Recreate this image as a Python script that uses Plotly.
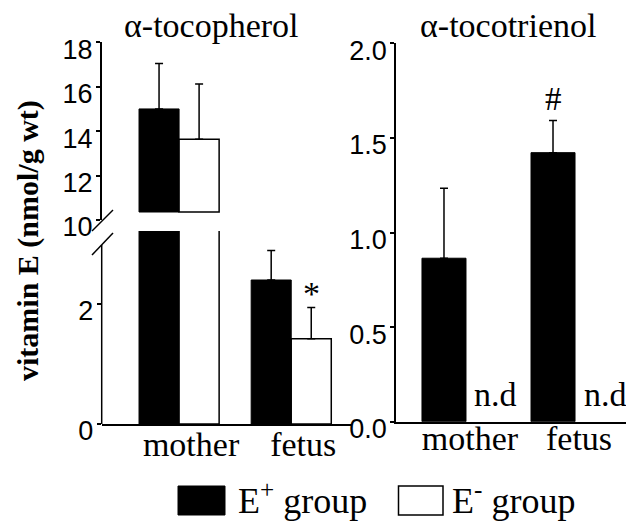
import plotly.graph_objects as go

W, H = 634, 523

# ---------------- data ----------------
categories = ["mother", "fetus"]

# alpha-tocopherol (nmol/g wt)
toco_eplus = [15.0, 2.40]
toco_eplus_sd = [2.05, 0.49]
toco_eminus = [13.63, 1.42]
toco_eminus_sd = [2.49, 0.52]

# alpha-tocotrienol (nmol/g wt); E- group not detected
trien_eplus = [0.864, 1.422]
trien_eplus_sd = [0.37, 0.17]
trien_eminus = [None, None]
trien_nd_labels = ["n.d", "n.d"]

left_ticks_low = [0, 2]
left_ticks_high = [10, 12, 14, 16, 18]
right_ticks = [0.0, 0.5, 1.0, 1.5, 2.0]

panel_titles = ["α-tocopherol", "α-tocotrienol"]
y_title = "vitamin E (nmol/g wt)"
legend_labels = ["E<sup>+</sup> group", "E<sup>-</sup> group"]
sig_marks = ["*", "#"]

# ---------------- layout helpers ----------------
OFF = 8  # page body margin

def px(x):
    return (x - OFF) / W

def py(y):
    return 1 - (y - OFF) / H

SERIF = "Times New Roman, Liberation Serif, serif"
SANS = "Arial, Liberation Sans, sans-serif"
BREAK_LOW_TOP = 3.217   # top of lower segment
BREAK_HIGH = 10.36      # bottom of bars in upper segment

wl = 40 / 112.0   # left bar width (category units)
wr = 44 / 109.0   # right bar width

fig = go.Figure()

def err(arr):
    return dict(type="data", array=arr, arrayminus=[0] * len(arr), symmetric=False,
                color="black", thickness=1.5, width=4, visible=True)

# ---- left panel, lower segment ----
fig.add_trace(go.Bar(x=categories, y=toco_eplus, width=wl, offset=-wl,
                     marker=dict(color="black", line=dict(color="black", width=1)),
                     error_y=err([None, toco_eplus_sd[1]]),
                     xaxis="x", yaxis="y", showlegend=False))
fig.add_trace(go.Bar(x=categories, y=toco_eminus, width=wl, offset=0,
                     marker=dict(color="white", line=dict(color="black", width=1.5)),
                     error_y=err([None, toco_eminus_sd[1]]),
                     xaxis="x", yaxis="y", showlegend=False))

# ---- left panel, upper segment (mother only; bars start at the break) ----
fig.add_trace(go.Bar(x=categories[:1], y=[toco_eplus[0] - BREAK_HIGH], base=BREAK_HIGH,
                     width=wl, offset=-wl,
                     marker=dict(color="black", line=dict(color="black", width=1)),
                     error_y=err([toco_eplus_sd[0]]),
                     xaxis="x", yaxis="y3", showlegend=False))
fig.add_trace(go.Bar(x=categories[:1], y=[toco_eminus[0] - BREAK_HIGH], base=BREAK_HIGH,
                     width=wl, offset=0,
                     marker=dict(color="white", line=dict(color="black", width=1.5)),
                     error_y=err([toco_eminus_sd[0]]),
                     xaxis="x", yaxis="y3", showlegend=False))

# ---- right panel ----
fig.add_trace(go.Bar(x=categories, y=trien_eplus, width=wr, offset=-wr,
                     marker=dict(color="black", line=dict(color="black", width=1)),
                     error_y=err(trien_eplus_sd),
                     xaxis="x2", yaxis="y2", showlegend=False))
fig.add_trace(go.Bar(x=categories, y=trien_eminus, width=wr, offset=0,
                     marker=dict(color="white", line=dict(color="black", width=1.5)),
                     xaxis="x2", yaxis="y2", showlegend=False))

tickfont = dict(family=SANS, size=27, color="black")
catfont = dict(family=SERIF, size=34, color="black")

common_y = dict(ticks="outside", ticklen=4, tickwidth=1.5, tickcolor="black",
                showgrid=False, zeroline=False, tickfont=tickfont, automargin=False,
                ticklabelshift=7, ticklabelstandoff=-2)
common_x = dict(type="category", categoryorder="array", categoryarray=categories,
                showline=True, linecolor="black", linewidth=2, ticks="",
                showgrid=False, zeroline=False, tickfont=catfont, automargin=False)

fig.update_layout(
    template="none",
    width=W, height=H,
    margin=dict(l=0, r=0, t=0, b=0, pad=0),
    paper_bgcolor="white", plot_bgcolor="rgba(0,0,0,0)",
    barmode="overlay",
    showlegend=False,
    xaxis=dict(domain=[px(101.7), px(352)], anchor="y", range=[-0.69, 1.542],
               ticklabelshift=12, ticklabelstandoff=-11, **common_x),
    yaxis=dict(domain=[py(424), py(231)], anchor="x", range=[0, BREAK_LOW_TOP],
               tickvals=left_ticks_low, showline=False, **common_y),
    yaxis3=dict(domain=[py(220), py(42.3)], anchor="x", range=[10, 18],
                tickvals=left_ticks_high, showline=True, linecolor="black", linewidth=1.5,
                **common_y),
    xaxis2=dict(domain=[px(396), px(628)], anchor="y2", range=[-0.642, 1.486],
                ticklabelshift=4, ticklabelstandoff=-15, **common_x),
    yaxis2=dict(domain=[py(421.7), py(43.3)], anchor="x2", range=[0, 2],
                tickvals=right_ticks, tickformat=".1f", showline=True, linecolor="black",
                linewidth=1.5, **common_y),
)

shapes = []
# lower left axis line (stops below the break)
shapes.append(dict(type="line", xref="paper", yref="paper", x0=px(101.7), x1=px(101.7),
                   y0=py(424), y1=py(245), line=dict(color="black", width=1.5)))
# break slashes
shapes.append(dict(type="line", xref="paper", yref="paper", x0=px(92), x1=px(113),
                   y0=py(231), y1=py(210), line=dict(color="black", width=1.5)))
shapes.append(dict(type="line", xref="paper", yref="paper", x0=px(92), x1=px(113),
                   y0=py(255), y1=py(233), line=dict(color="black", width=1.5)))
# legend swatches
shapes.append(dict(type="rect", xref="paper", yref="paper", x0=px(178), x1=px(225),
                   y0=py(515), y1=py(486), fillcolor="black", line=dict(color="black", width=1)))
shapes.append(dict(type="rect", xref="paper", yref="paper", x0=px(398.5), x1=px(443),
                   y0=py(515), y1=py(486), fillcolor="white", line=dict(color="black", width=1.5)))

annotations = []
# panel titles
annotations.append(dict(text=panel_titles[0], xref="paper", yref="paper", x=px(211), y=py(25),
                        showarrow=False, font=dict(family=SERIF, size=34, color="black"),
                        xanchor="center", yanchor="middle"))
annotations.append(dict(text=panel_titles[1], xref="paper", yref="paper", x=px(508), y=py(25),
                        showarrow=False, font=dict(family=SERIF, size=34, color="black"),
                        xanchor="center", yanchor="middle"))
# y title
annotations.append(dict(text="<b>" + y_title + "</b>", xref="paper", yref="paper",
                        x=px(28), y=py(241), textangle=-90, showarrow=False,
                        font=dict(family=SERIF, size=30, color="black"),
                        xanchor="center", yanchor="middle"))
# n.d labels
for cat, lab in zip(categories, trien_nd_labels):
    annotations.append(dict(text=lab, xref="x2", yref="y2", x=cat, y=0, xshift=30, yshift=7,
                            showarrow=False, font=dict(family=SERIF, size=34, color="black"),
                            xanchor="center", yanchor="bottom"))
# significance marks
annotations.append(dict(text=sig_marks[0], xref="x", yref="y", x=categories[1],
                        y=toco_eminus[1] + toco_eminus_sd[1], xshift=wl * 112 / 2, yshift=-6,
                        showarrow=False, font=dict(family=SERIF, size=34, color="black"),
                        xanchor="center", yanchor="bottom"))
annotations.append(dict(text=sig_marks[1], xref="x2", yref="y2", x=categories[1],
                        y=trien_eplus[1] + trien_eplus_sd[1], xshift=-wr * 109 / 2, yshift=1,
                        showarrow=False, font=dict(family=SERIF, size=33, color="black"),
                        xanchor="center", yanchor="bottom"))
# legend texts
annotations.append(dict(text=legend_labels[0], xref="paper", yref="paper", x=px(236), y=py(498),
                        showarrow=False, font=dict(family=SERIF, size=36, color="black"),
                        xanchor="left", yanchor="middle"))
annotations.append(dict(text=legend_labels[1], xref="paper", yref="paper", x=px(450), y=py(498),
                        showarrow=False, font=dict(family=SERIF, size=36, color="black"),
                        xanchor="left", yanchor="middle"))

fig.update_layout(shapes=shapes, annotations=annotations)

fig.write_html("out.html")
